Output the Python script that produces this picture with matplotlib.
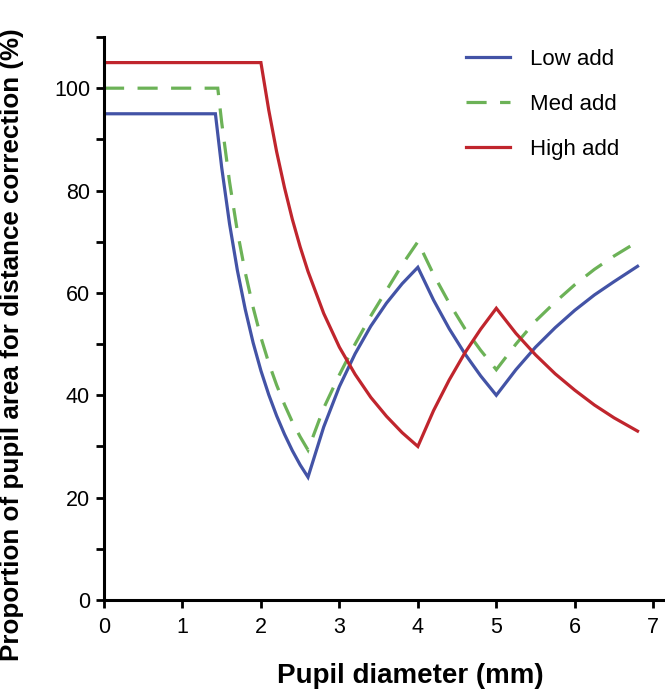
import matplotlib
matplotlib.use("Agg")
import matplotlib.pyplot as plt

plt.rcParams['font.family'] = ['Liberation Sans', 'DejaVu Sans']

# Data
low_x = [0, 1.42, 1.5, 1.6, 1.7, 1.8, 1.9, 2.0, 2.1, 2.2, 2.3, 2.4, 2.5, 2.6,
         2.8, 3.0, 3.2, 3.4, 3.6, 3.8, 4.0,
         4.2, 4.4, 4.6, 4.8, 5.0,
         5.25, 5.5, 5.75, 6.0, 6.25, 6.5, 6.8]
low_y = [95, 95, 84.5, 73.5, 64.4, 56.8, 50.3, 44.8, 40.1, 36, 32.4, 29.2, 26.4, 24,
         33.8, 41.7, 48.1, 53.5, 58, 61.8, 65,
         58.6, 53, 48.1, 43.8, 40,
         45, 49.4, 53.2, 56.6, 59.6, 62.2, 65.2]

med_x = [0, 1.45, 1.5, 1.6, 1.7, 1.8, 1.9, 2.0, 2.1, 2.2, 2.3, 2.4, 2.5, 2.6,
         2.8, 3.0, 3.2, 3.4, 3.6, 3.8, 4.0,
         4.2, 4.4, 4.6, 4.8, 5.0,
         5.25, 5.5, 5.75, 6.0, 6.25, 6.5, 6.8]
med_y = [100, 100, 93.3, 81.7, 72, 64, 57.2, 51.3, 46.3, 42, 38.2, 34.8, 31.9, 29.3,
         37.5, 44, 50, 55.5, 60.5, 65.5, 70,
         63.6, 58, 53, 48.8, 45,
         50, 54.5, 58.2, 61.6, 64.6, 67.2, 70]

high_x = [0, 2.0, 2.1, 2.2, 2.3, 2.4, 2.5, 2.6, 2.8, 3.0, 3.2, 3.4, 3.6, 3.8, 4.0,
          4.2, 4.4, 4.6, 4.8, 5.0,
          5.25, 5.5, 5.75, 6.0, 6.25, 6.5, 6.8]
high_y = [105, 105, 95.7, 87.6, 80.6, 74.4, 69, 64.2, 56, 49.4, 44.1, 39.6, 35.9, 32.7, 30,
          37, 43, 48.3, 52.9, 57,
          52.1, 47.9, 44.2, 41, 38.1, 35.6, 33]

labels = ["Low add", "Med add", "High add"]
colors = ["#4353a6", "#6cb257", "#c0252d"]

x_ticks = [0, 1, 2, 3, 4, 5, 6, 7]
y_major = [0, 20, 40, 60, 80, 100]
y_minor = [10, 30, 50, 70, 90, 110]

fig = plt.figure(figsize=(6.65, 6.9), dpi=100)
ax = fig.add_axes([104/665, 90/690, 561/665, 563/690])

lw = 2.3
ax.plot(low_x, low_y, color=colors[0], lw=lw, label=labels[0], solid_joinstyle='miter')
ax.plot(med_x, med_y, color=colors[1], lw=lw, label=labels[1],
        linestyle=(0, (6.3, 4.2)), dash_joinstyle='miter')
ax.plot(high_x, high_y, color=colors[2], lw=lw, label=labels[2], solid_joinstyle='miter')

ax.set_xlim(0, 7.15)
ax.set_ylim(0, 110)
ax.set_xticks(x_ticks)
ax.set_yticks(y_major)
ax.set_yticks(y_minor, minor=True)

for s in ['top', 'right']:
    ax.spines[s].set_visible(False)
for s in ['left', 'bottom']:
    ax.spines[s].set_linewidth(2.2)

ax.tick_params(axis='both', which='major', direction='out', length=6, width=2,
               labelsize=15.5, pad=4)
ax.tick_params(axis='x', which='major', pad=6)
ax.tick_params(axis='y', which='minor', direction='out', length=6, width=2)

ax.set_xlabel("Pupil diameter (mm)", fontsize=20, fontweight='bold')
ax.set_ylabel("Proportion of pupil area for distance correction (%)", fontsize=18.7,
              fontweight='bold')
ax.xaxis.set_label_coords(0.546, -0.112)
ax.yaxis.set_label_coords(-0.142, 0.454)

leg = ax.legend(loc='upper right', bbox_to_anchor=(0.947, 1.006), frameon=False,
                fontsize=16, handlelength=2.0, handletextpad=0.9, labelspacing=1.08,
                borderaxespad=0.3)

fig.savefig("out.png", dpi=100)
